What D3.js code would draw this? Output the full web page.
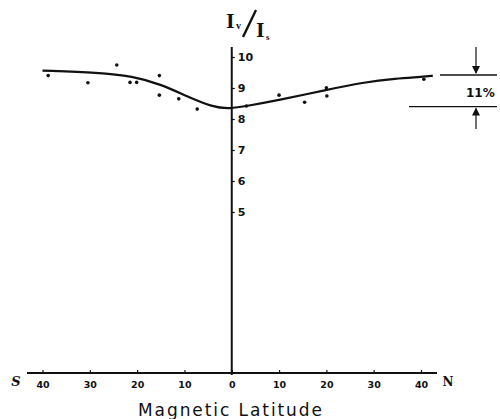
<!DOCTYPE html>
<html>
<head>
<meta charset="utf-8">
<script src="https://cdn.jsdelivr.net/npm/d3@7"></script>
<style>
  body { margin: 0; background: #fff; }
  svg { display: block; }
  text { fill: #111; }
</style>
</head>
<body>
<div class="chart"></div>
<script>
var svgWidth = 500;
var svgHeight = 419;

// observed points (latitude, Iv/Is)
var pointLat = [-38.8, -30.4, -24.3, -21.5, -20.1, -15.3, -15.3, -11.2, -7.3, 3.1, 10.0, 15.4, 20.0, 20.1, 40.6];
var pointVal = [9.40, 9.17, 9.74, 9.18, 9.18, 9.40, 8.77, 8.65, 8.32, 8.42, 8.77, 8.54, 9.01, 8.74, 9.28];

// smooth curve drawn through the points
var curveLat = [-40, -28, -21, -15, -9.6, -4, -0.4, 3.1, 10, 20, 27.7, 34.7, 40.5, 42.5];
var curveVal = [9.56, 9.50, 9.38, 9.12, 8.74, 8.38, 8.33, 8.42, 8.61, 8.94, 9.18, 9.31, 9.36, 9.40];

var xTicks = [-40, -30, -20, -10, 0, 10, 20, 30, 40];
var yTicks = [5, 6, 7, 8, 9, 10];

// the two levels marked on the right (11% difference)
var levels = [9.42, 8.40];

var svg = d3.select(".chart").append("svg")
  .attr("width", svgWidth)
  .attr("height", svgHeight);

var xScale = d3.scaleLinear().domain([-40, 40]).range([42.5, 421]);
var yScale = d3.scaleLinear().domain([5, 10]).range([212, 57]);
var axisY = 373;

// x axis
var xAxis = d3.axisBottom(xScale)
  .tickValues(xTicks)
  .tickSize(3)
  .tickPadding(5)
  .tickFormat(function(d) { return Math.abs(d); });

var gx = svg.append("g")
  .attr("transform", "translate(0," + axisY + ")")
  .call(xAxis);
gx.select(".domain").remove();
gx.selectAll(".tick line").attr("y1", -3).attr("y2", 1).attr("stroke", "#111").attr("stroke-width", 1.2);
gx.selectAll(".tick text")
  .attr("font-family", "DejaVu Sans")
  .attr("font-weight", "bold")
  .attr("font-size", 9.5)
  .attr("fill", "#111");

svg.append("line")
  .attr("x1", 27).attr("x2", 437)
  .attr("y1", axisY).attr("y2", axisY)
  .attr("stroke", "#111").attr("stroke-width", 1.8);

// y axis
var yAxis = d3.axisRight(yScale)
  .tickValues(yTicks)
  .tickSize(3)
  .tickPadding(3)
  .tickFormat(d3.format("d"));

var gy = svg.append("g")
  .attr("transform", "translate(" + xScale(0) + ",0)")
  .call(yAxis);
gy.select(".domain").remove();
gy.selectAll(".tick line").attr("stroke", "#111").attr("stroke-width", 1.2);
gy.selectAll(".tick text")
  .attr("font-family", "DejaVu Sans")
  .attr("font-weight", "bold")
  .attr("font-size", 11)
  .attr("fill", "#111");

svg.append("line")
  .attr("x1", xScale(0)).attr("x2", xScale(0))
  .attr("y1", yScale(10.32)).attr("y2", axisY + 2)
  .attr("stroke", "#111").attr("stroke-width", 2);

// curve
var curveData = curveLat.map(function(d, i) { return [d, curveVal[i]]; });
var line = d3.line()
  .x(function(d) { return xScale(d[0]); })
  .y(function(d) { return yScale(d[1]); })
  .curve(d3.curveBasis);

svg.append("path")
  .datum(curveData)
  .attr("d", line)
  .attr("fill", "none")
  .attr("stroke", "#111")
  .attr("stroke-width", 2.2);

// points
svg.selectAll("circle.pt")
  .data(pointLat)
  .enter()
  .append("circle")
  .attr("class", "pt")
  .attr("cx", function(d) { return xScale(d); })
  .attr("cy", function(d, i) { return yScale(pointVal[i]); })
  .attr("r", 1.8)
  .attr("fill", "#111");

// S / N labels
svg.append("text").attr("x", 16).attr("y", 386)
  .attr("text-anchor", "middle")
  .attr("font-family", "DejaVu Serif").attr("font-style", "italic").attr("font-weight", "bold")
  .attr("font-size", 13).text("S");
svg.append("text").attr("x", 448).attr("y", 386)
  .attr("text-anchor", "middle")
  .attr("font-family", "DejaVu Serif").attr("font-weight", "bold")
  .attr("font-size", 12).text("N");

// x title
svg.append("text")
  .attr("x", 138).attr("y", 416)
  .attr("textLength", 184)
  .attr("lengthAdjust", "spacing")
  .attr("font-family", "DejaVu Sans")
  .attr("font-size", 17)
  .text("Magnetic Latitude");

// y title Iv / Is
var title = svg.append("g").attr("font-family", "Liberation Serif").attr("font-weight", "bold");
title.append("text").attr("x", 226).attr("y", 28).attr("font-size", 22).text("I");
title.append("text").attr("x", 236).attr("y", 29).attr("font-size", 10).text("v");
title.append("line")
  .attr("x1", 256).attr("y1", 10).attr("x2", 243).attr("y2", 37)
  .attr("stroke", "#111").attr("stroke-width", 2.4);
title.append("text").attr("x", 256).attr("y", 37).attr("font-size", 22).text("I");
title.append("text").attr("x", 266).attr("y", 40).attr("font-size", 9).text("s");

// 11% annotation
var ay0 = yScale(levels[0]);
var ay1 = yScale(levels[1]);
svg.append("line").attr("x1", 440).attr("x2", 497).attr("y1", ay0).attr("y2", ay0)
  .attr("stroke", "#111").attr("stroke-width", 1.3);
svg.append("line").attr("x1", 409).attr("x2", 497).attr("y1", ay1).attr("y2", ay1)
  .attr("stroke", "#111").attr("stroke-width", 1.3);
svg.append("line").attr("x1", 476).attr("x2", 476).attr("y1", 47).attr("y2", ay0 - 2)
  .attr("stroke", "#111").attr("stroke-width", 1.2);
svg.append("line").attr("x1", 476).attr("x2", 476).attr("y1", 129).attr("y2", ay1 + 2)
  .attr("stroke", "#111").attr("stroke-width", 1.2);
svg.append("path")
  .attr("d", "M472," + (ay0 - 9) + "L476," + (ay0 - 1) + "L480," + (ay0 - 9) + "Z")
  .attr("fill", "#111");
svg.append("path")
  .attr("d", "M472," + (ay1 + 9) + "L476," + (ay1 + 1) + "L480," + (ay1 + 9) + "Z")
  .attr("fill", "#111");
svg.append("text")
  .attr("x", 466).attr("y", 97)
  .attr("font-family", "DejaVu Sans").attr("font-weight", "bold")
  .attr("font-size", 12)
  .text("11%");
</script>
</body>
</html>
